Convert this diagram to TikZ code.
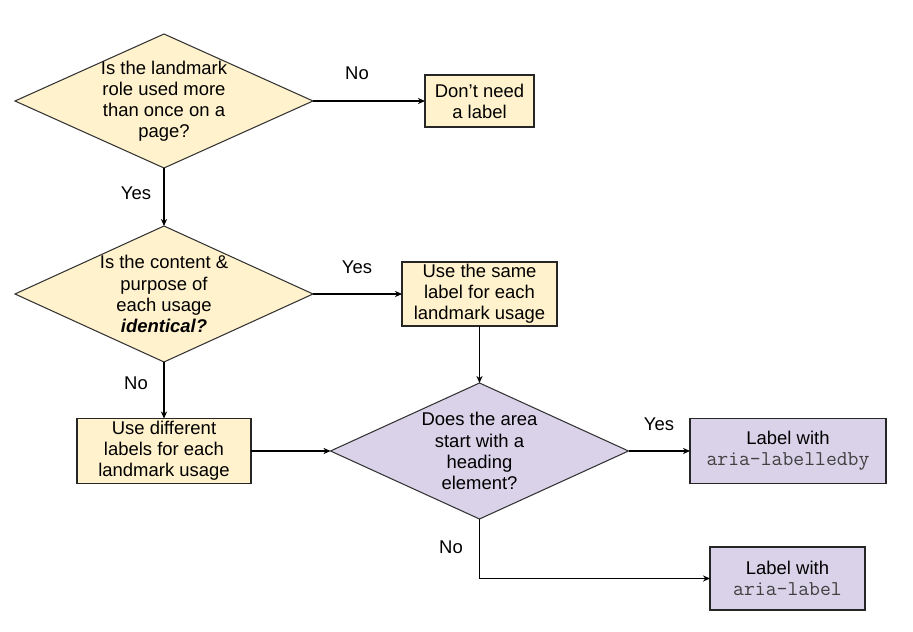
\documentclass[tikz,border=0pt]{standalone}
\usepackage{fontspec}
\setmainfont{Liberation Sans}
\usepackage{tikz}
\usetikzlibrary{shapes.geometric}
\usetikzlibrary{arrows.meta}
\definecolor{ylw}{HTML}{FFF2CC}
\definecolor{lav}{HTML}{D9D2E9}
\newcommand{\codetxt}[1]{{\color{black!75}\ttfamily\fontsize{12}{12}\selectfont #1}}

\begin{document}
\begin{tikzpicture}[
  font=\fontsize{10.5}{12}\selectfont,
  box/.style={draw=black!85, line width=0.6pt, inner sep=0pt, outer sep=0pt, align=center},
  dia/.style={draw=black!80, line width=0.6pt, shape=diamond, inner sep=0pt, outer sep=0pt, minimum width=5.96cm},
  txt/.style={align=center, inner sep=0pt},
  arr/.style={line width=0.6pt, -{Stealth[length=4pt, width=3.5pt]}}
]

\useasboundingbox (0,0) rectangle (18.26,12.64);

\node[dia, fill=ylw, minimum height=2.68cm] (q1) at (3.28,10.62) {};
\node[txt] at (q1) {Is the landmark\\role used more\\than once on a\\page?};

\node[dia, fill=ylw, minimum height=2.72cm] (q2) at (3.28,6.76) {};
\node[txt] at (q2) {Is the content \&\\purpose of\\each usage\\\textbf{\textit{identical?}}};

\node[dia, fill=lav, minimum height=2.72cm] (q3) at (9.59,3.62) {};
\node[txt] at (q3) {Does the area\\start with a\\heading\\element?};

\node[box, fill=ylw, minimum width=2.18cm, minimum height=1.04cm] (noneed) at (9.59,10.62) {Don’t need\\a label};

\node[box, fill=ylw, minimum width=3.1cm, minimum height=1.28cm] (same) at (9.59,6.76) {Use the same\\label for each\\landmark usage};

\node[box, fill=ylw, minimum width=3.48cm, minimum height=1.3cm] (diff) at (3.28,3.62) {Use different\\labels for each\\landmark usage};

\node[box, fill=lav, minimum width=3.92cm, minimum height=1.3cm] (lblby) at (15.76,3.62) {Label with\\\codetxt{aria-labelledby}};

\node[box, fill=lav, minimum width=3.1cm, minimum height=1.26cm] (lbl) at (15.75,1.07) {Label with\\\codetxt{aria-label}};

\draw[arr] (q1.east) -- (noneed.west);
\node (no1) at (7.14,11.18) {No};

\draw[arr] (q1.south) -- (q2.north);
\node (yes1) at (2.72,8.78) {Yes};

\draw[arr] (q2.east) -- (same.west);
\node (yes2) at (7.14,7.30) {Yes};

\draw[arr] (q2.south) -- (diff.north);
\node (no2) at (2.72,4.98) {No};

\draw[arr] (same.south) -- (q3.north);

\draw[arr] (diff.east) -- (q3.west);

\draw[arr] (q3.east) -- (lblby.west);
\node (yes3) at (13.18,4.16) {Yes};

\draw[arr] (q3.south) |- (lbl.west);
\node (no3) at (9.02,1.70) {No};

\end{tikzpicture}
\end{document}
